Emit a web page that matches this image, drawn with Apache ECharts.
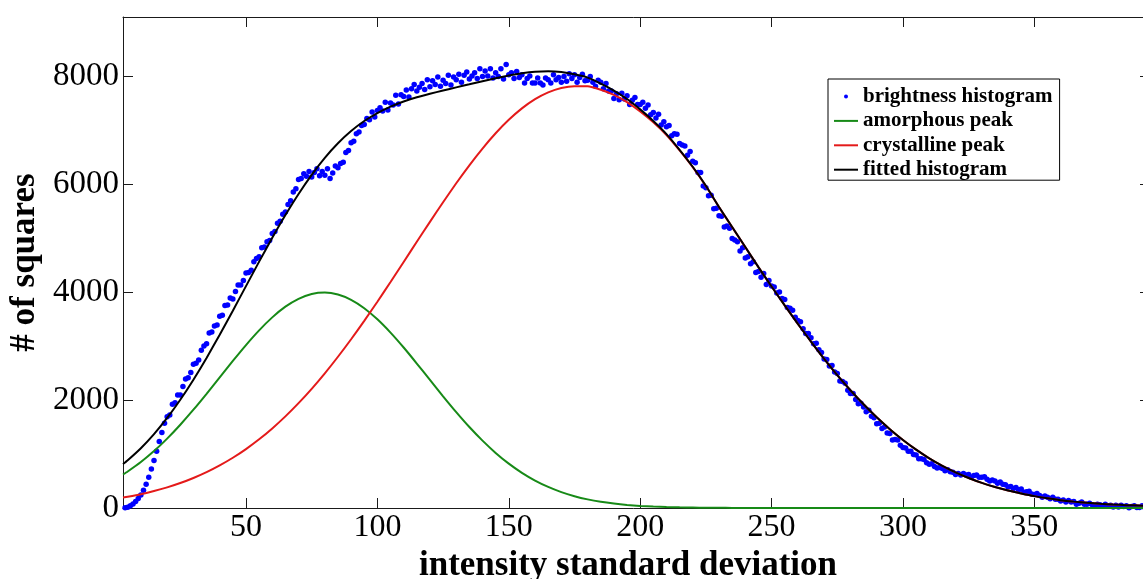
<!DOCTYPE html>
<html><head><meta charset="utf-8">
<script src="https://cdn.jsdelivr.net/npm/echarts@6/dist/echarts.min.js"></script>
<style>html,body{margin:0;padding:0;background:#fff}#c{width:1143px;height:579px}</style>
</head><body><div id="c"></div>
<script>
// ---- data ----
const xTicks = [50, 100, 150, 200, 250, 300, 350];
const yTicks = [0, 2000, 4000, 6000, 8000];

// fitted curves, sampled
const lineX = [3.2,5,10,15,20,25,30,35,40,45,50,55,60,65,70,75,80,85,90,95,100,105,110,115,120,125,130,135,140,145,150,155,160,165,170,175,180,185,190,195,200,205,210,215,220,225,230,235,240,245,250,255,260,265,270,275,280,285,290,295,300,305,310,315,320,325,330,335,340,345,350,355,360,365,370,375,380,385,390,394];
const amorphous = [620,676,851,1054,1285,1542,1820,2115,2419,2723,3017,3289,3529,3727,3873,3962,3989,3952,3854,3699,3493,3247,2971,2675,2370,2068,1775,1499,1247,1020,821,651,508,390,294,219,160,115,82,57,39,26,18,12,8,5,3,2,1,0,0,0,0,0,0,0,0,0,0,0,0,0,0,0,0,0,0,0,0,0,0,0,0,0,0,0,0,0,0,0];
const crystalline = [193,208,256,314,382,462,556,664,789,930,1091,1272,1474,1696,1941,2206,2493,2800,3124,3465,3819,4184,4555,4928,5298,5661,6012,6345,6655,6937,7186,7398,7569,7695,7776,7810,7808,7742,7647,7514,7341,7140,6905,6620,6310,5960,5570,5200,4830,4460,4100,3750,3410,3080,2760,2460,2180,1920,1680,1460,1260,1080,920,780,660,555,465,390,325,270,220,180,145,118,95,78,64,53,45,40];
const fitted = [813,884,1107,1368,1667,2004,2376,2779,3208,3653,4108,4561,5003,5423,5814,6168,6482,6752,6978,7164,7312,7431,7526,7603,7668,7729,7787,7844,7902,7957,8007,8049,8077,8085,8070,8029,7968,7857,7729,7571,7380,7166,6923,6632,6318,5965,5573,5202,4831,4460,4100,3750,3410,3080,2760,2460,2180,1920,1680,1460,1260,1080,920,780,660,555,465,390,325,270,220,180,145,118,95,78,64,53,45,40];

// brightness histogram: one value per unit of intensity std, starting at histStart
const histStart = 4;
const brightness = [
5,15,40,75,120,175,240,330,440,570,720,880,1050,1230,1400,1570,
1690,1720,1920,1950,2090,2090,2250,2390,2410,2510,
2660,2680,2740,2920,3000,3040,3240,3260,3370,3390,
3550,3570,3750,3760,3890,3870,4010,4130,4130,4210,
4350,4360,4400,4560,4620,4650,4820,4830,4930,4950,
5080,5120,5270,5310,5440,5480,5620,5690,5850,5910,
6080,6100,6190,6140,6230,6130,6210,6280,6150,6230,
6160,6280,6100,6200,6330,6300,6380,6400,6580,6620,
6760,6790,6930,6960,7080,7100,7210,7190,7330,7240,
7360,7410,7350,7510,7370,7500,7460,7640,7480,7650,
7620,7740,7610,7760,7840,7720,7790,7860,7750,7930,
7800,7910,7840,7980,7810,7920,7860,8010,7830,7980,
7930,8030,7880,8010,8070,7940,8000,8060,7950,8130,
7990,8090,8000,8130,7960,8060,7990,8130,7940,8210,
8020,8060,7950,8080,7970,8020,7870,7950,8000,7870,
7870,7960,7870,7830,7960,7930,7870,8020,7930,7970,
7880,7990,7900,8040,7950,8020,7880,7970,8030,7910,
7920,7990,7880,7810,7920,7880,7760,7860,7720,7720,
7580,7670,7560,7680,7570,7630,7470,7550,7600,7470,
7470,7510,7400,7460,7280,7320,7220,7290,7090,7150,
7060,7080,6890,6930,6920,6750,6720,6700,6530,6600,
6420,6390,6210,6210,5960,5930,5780,5790,5540,5550,
5410,5400,5200,5220,5180,4990,4960,4930,4760,4820,
4630,4650,4520,4560,4360,4380,4270,4340,4140,4210,
4110,4090,3980,4000,3880,3860,3710,3700,3660,3530,
3470,3450,3320,3230,3230,3150,3040,3050,2930,2880,
2760,2750,2630,2640,2520,2490,2350,2340,2310,2180,
2120,2120,2010,1930,1940,1870,1780,1810,1700,1670,
1560,1570,1470,1500,1390,1380,1260,1270,1260,1160,
1120,1110,1050,1050,990,980,910,910,900,840,
810,820,770,740,750,730,690,710,670,660,
620,640,610,640,610,620,570,600,610,570,
570,580,530,500,520,500,460,480,440,430,
390,400,360,380,340,350,290,300,310,260,
250,270,230,200,220,200,170,200,160,160,
130,150,110,140,110,120,70,90,110,70,
70,90,60,40,70,60,40,70,40,50,
20,50,20,50,30,40,5,30,40,10,
10,40,10,5];

const seriesNames = ['brightness histogram', 'amorphous peak', 'crystalline peak', 'fitted histogram'];
const xName = 'intensity standard deviation';
const yName = '# of squares';

// ---- chart ----
const FONT = "'Liberation Serif','Times New Roman',serif";
const AX = '#1a1a1a';
const pair = (xs, ys) => xs.map((x, i) => [x, ys[i]]);
const histData = brightness.map((v, i) => [histStart + i, v]);

const chart = echarts.init(document.getElementById('c'), null, {renderer: 'canvas'});
const xCommon = {type: 'value', min: 3.2, max: 394, splitLine: {show: false},
  axisLine: {show: true, onZero: false, lineStyle: {color: AX, width: 1}},
  axisTick: {show: true, inside: true, length: 10, customValues: xTicks, lineStyle: {color: AX, width: 1}}};
const yCommon = {type: 'value', min: 0, max: 9090, splitLine: {show: false},
  axisLine: {show: true, onZero: false, lineStyle: {color: AX, width: 1}},
  axisTick: {show: true, inside: true, length: 10, customValues: yTicks, lineStyle: {color: AX, width: 1}}};
const noSym = {opacity: 0};

chart.setOption({
  animation: false,
  backgroundColor: '#fff',
  grid: {left: 123, top: 17, width: 1027, height: 491, containLabel: false, outerBoundsMode: 'none'},
  xAxis: [
    Object.assign({}, xCommon, {position: 'bottom',
      axisLabel: {customValues: xTicks, fontFamily: FONT, fontSize: 32, color: '#000', margin: 4,
        formatter: v => String(v)},
      name: xName, nameLocation: 'middle', nameGap: 39,
      nameTextStyle: {fontFamily: FONT, fontWeight: 'bold', fontSize: 35, color: '#000', padding: [0, 17, 0, 0]}}),
    Object.assign({}, xCommon, {position: 'top', axisLabel: {show: false}})
  ],
  yAxis: [
    Object.assign({}, yCommon, {position: 'left',
      axisLabel: {customValues: yTicks, fontFamily: FONT, fontSize: 33, color: '#000', margin: 4,
        formatter: v => String(v)},
      name: yName, nameLocation: 'middle', nameGap: 69,
      nameTextStyle: {fontFamily: FONT, fontWeight: 'bold', fontSize: 35, color: '#000'}}),
    Object.assign({}, yCommon, {position: 'right', axisLabel: {show: false}})
  ],
  legend: {
    orient: 'vertical', left: 828, top: 79,
    padding: [7, 7, 0, 5], itemGap: 3.4, itemWidth: 24, itemHeight: 4,
    symbolKeepAspect: true,
    borderColor: '#000', borderWidth: 1, backgroundColor: '#fff',
    textStyle: {fontFamily: FONT, fontWeight: 'bold', fontSize: 21, lineHeight: 18, color: '#000'},
    data: [
      {name: seriesNames[0], icon: 'circle'},
      {name: seriesNames[1], itemStyle: noSym},
      {name: seriesNames[2], itemStyle: noSym},
      {name: seriesNames[3], itemStyle: noSym}
    ]
  },
  series: [
    {name: seriesNames[0], type: 'scatter', data: histData, symbol: 'circle', symbolSize: 5.5,
     itemStyle: {color: '#0000ff', opacity: 1}, silent: true},
    {name: seriesNames[1], type: 'line', data: pair(lineX, amorphous), symbol: 'none', smooth: 0.2,
     lineStyle: {color: '#178a17', width: 2}, itemStyle: {color: '#178a17'}, silent: true},
    {name: seriesNames[2], type: 'line', data: pair(lineX, crystalline), symbol: 'none', smooth: 0.2,
     lineStyle: {color: '#e41a1a', width: 2}, itemStyle: {color: '#e41a1a'}, silent: true},
    {name: seriesNames[3], type: 'line', data: pair(lineX, fitted), symbol: 'none', smooth: 0.2,
     lineStyle: {color: '#000000', width: 2}, itemStyle: {color: '#000000'}, silent: true}
  ]
});
</script>
</body></html>
